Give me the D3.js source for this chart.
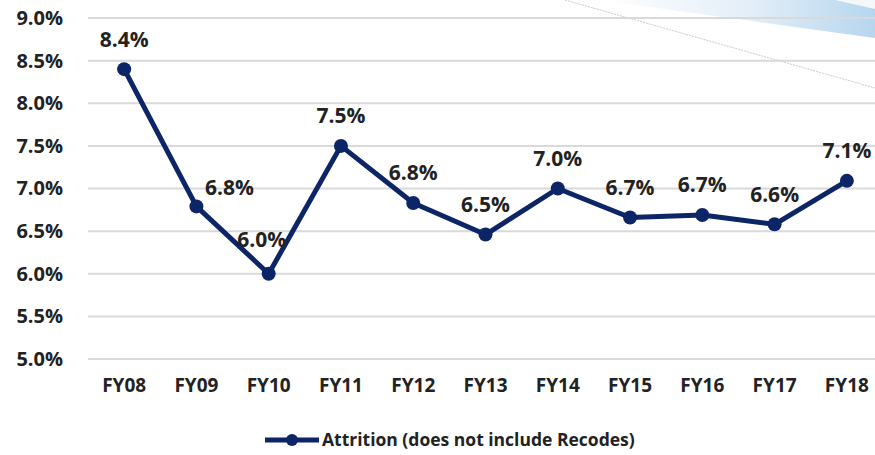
<!DOCTYPE html>
<html>
<head>
<meta charset="utf-8">
<script src="https://cdn.jsdelivr.net/npm/d3@7"></script>
<style>
    body { margin: 0; background: #fff; }
    svg text { font-family: "Open Sans", sans-serif; font-weight: 700; fill: #222; }
</style>
</head>
<body>
<div id="chart"></div>
<script>
// chart data
var years = ["FY08", "FY09", "FY10", "FY11", "FY12", "FY13", "FY14", "FY15", "FY16", "FY17", "FY18"];
var attrition = [8.4, 6.79, 6.0, 7.5, 6.83, 6.46, 7.0, 6.66, 6.69, 6.58, 7.09];
var yTicks = [5.0, 5.5, 6.0, 6.5, 7.0, 7.5, 8.0, 8.5, 9.0];
var seriesName = "Attrition (does not include Recodes)";

var width = 875, height = 455;
var margin = { top: 18, right: -8, bottom: 96, left: 88 };
var navy = "#0b2566";

var svg = d3.select("#chart").append("svg")
    .attr("width", width)
    .attr("height", height);

// decorative swoosh top right
var defs = svg.append("defs");
var grad = defs.append("linearGradient")
    .attr("id", "swoosh")
    .attr("x1", "0").attr("y1", "0")
    .attr("x2", "1").attr("y2", "0");
grad.append("stop").attr("offset", "0%").attr("stop-color", "#ffffff");
grad.append("stop").attr("offset", "55%").attr("stop-color", "#e3eef8");
grad.append("stop").attr("offset", "100%").attr("stop-color", "#b6d6ee");

svg.append("path")
    .attr("d", "M600,0 L875,0 L875,38 Z")
    .attr("fill", "url(#swoosh)");
svg.append("path")
    .attr("d", "M835,0 L875,0 L875,9 Z")
    .attr("fill", "#f4f8fb");
svg.append("line")
    .attr("x1", 565).attr("y1", 0)
    .attr("x2", 875).attr("y2", 88)
    .attr("stroke", "#bdbdbd")
    .attr("stroke-width", 0.8)
    .attr("stroke-dasharray", "2,1");

var plotW = width - margin.left - margin.right;
var plotH = height - margin.top - margin.bottom;

var g = svg.append("g")
    .attr("transform", "translate(" + margin.left + "," + margin.top + ")");

var x = d3.scaleBand()
    .domain(years)
    .range([0, plotW]);
var y = d3.scaleLinear()
    .domain([5.0, 9.0])
    .range([plotH, 0]);

// gridlines
g.selectAll(".grid")
    .data(yTicks)
    .enter()
    .append("line")
    .attr("class", "grid")
    .attr("x1", 0)
    .attr("x2", plotW)
    .attr("y1", function(d) { return y(d); })
    .attr("y2", function(d) { return y(d); })
    .attr("stroke", "#d9d9d9")
    .attr("stroke-width", 2);

// y axis
var yAxis = d3.axisLeft(y)
    .tickValues(yTicks)
    .tickSize(0)
    .tickPadding(25)
    .tickFormat(function(d) { return d.toFixed(1) + "%"; });
g.append("g")
    .attr("class", "y-axis")
    .call(yAxis)
    .call(function(s) { s.select(".domain").remove(); })
    .selectAll("text")
    .style("font-size", "20px");

// x axis
var xAxis = d3.axisBottom(x)
    .tickSize(0)
    .tickPadding(20);
g.append("g")
    .attr("class", "x-axis")
    .attr("transform", "translate(0," + plotH + ")")
    .call(xAxis)
    .call(function(s) { s.select(".domain").remove(); })
    .selectAll("text")
    .style("font-size", "19px");

var cx = function(d, i) { return x(years[i]) + x.bandwidth() / 2; };

// line
var line = d3.line()
    .x(function(d, i) { return cx(d, i); })
    .y(function(d) { return y(d); });

g.append("path")
    .datum(attrition)
    .attr("d", line)
    .attr("fill", "none")
    .attr("stroke", navy)
    .attr("stroke-width", 5)
    .attr("stroke-linejoin", "round");

g.selectAll(".dot")
    .data(attrition)
    .enter()
    .append("circle")
    .attr("class", "dot")
    .attr("cx", cx)
    .attr("cy", function(d) { return y(d); })
    .attr("r", 7)
    .attr("fill", navy);

// data labels (most above, a couple nudged aside)
var nudge = { "FY09": [33, -19], "FY10": [-7, -34] };
g.selectAll(".label")
    .data(attrition)
    .enter()
    .append("text")
    .attr("class", "label")
    .attr("x", function(d, i) {
        var n = nudge[years[i]];
        return cx(d, i) + (n ? n[0] : 0);
    })
    .attr("y", function(d, i) {
        var n = nudge[years[i]];
        return y(d) + (n ? n[1] : -30);
    })
    .attr("dy", "0.35em")
    .attr("text-anchor", "middle")
    .style("font-size", "21px")
    .text(function(d) { return d.toFixed(1) + "%"; });

// legend
var legend = svg.append("g")
    .attr("transform", "translate(265,440)");
legend.append("line")
    .attr("x1", 0).attr("x2", 54)
    .attr("y1", 0).attr("y2", 0)
    .attr("stroke", navy)
    .attr("stroke-width", 5);
legend.append("circle")
    .attr("cx", 27).attr("cy", 0)
    .attr("r", 6)
    .attr("fill", navy);
legend.append("text")
    .attr("x", 57)
    .attr("y", 0)
    .attr("dy", "0.35em")
    .style("font-size", "17.5px")
    .text(seriesName);
</script>
</body>
</html>
